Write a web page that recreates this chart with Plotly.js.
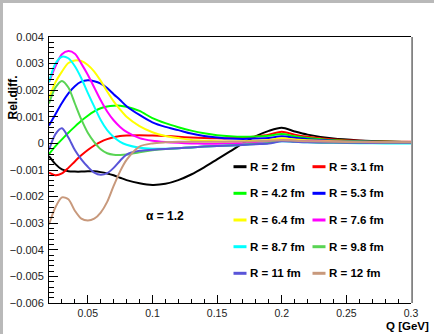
<!DOCTYPE html>
<html>
<head>
<meta charset="utf-8">
<script src="https://cdn.plot.ly/plotly-3.0.1.min.js"></script>
<style>html,body{margin:0;padding:0;background:#fff;}#chart{width:434px;height:334px;}</style>
</head>
<body>
<div id="chart"></div>
<script>
// ---- data ----
const Q = [0.02, 0.025, 0.03, 0.035, 0.04, 0.045, 0.05, 0.055, 0.06, 0.065, 0.07, 0.075, 0.08, 0.09, 0.1, 0.11, 0.12, 0.13, 0.14, 0.15, 0.16, 0.17, 0.18, 0.19, 0.2, 0.21, 0.22, 0.24, 0.26, 0.28, 0.3];
const seriesNames = ["R = 2 fm", "R = 3.1 fm", "R = 4.2 fm", "R = 5.3 fm", "R = 6.4 fm", "R = 7.6 fm", "R = 8.7 fm", "R = 9.8 fm", "R = 11 fm", "R = 12 fm"];
const seriesColors = ["#000000", "#ff0000", "#00ff00", "#0000ff", "#ffff00", "#ff00ff", "#00ffff", "#59d454", "#5954d8", "#c8997c"];
const R2  = [-0.00048, -0.00078, -0.00098, -0.00105, -0.00106, -0.00106, -0.00105, -0.00105, -0.00108, -0.00113, -0.0012, -0.00129, -0.00138, -0.0015, -0.00156, -0.00152, -0.00138, -0.00117, -0.0009, -0.0006, -0.0003, 0.0, 0.00027, 0.00047, 0.00059, 0.00045, 0.00033, 0.00018, 0.00011, 0.00007, 0.00005];
const R31 = [-0.0011, -0.0012, -0.00113, -0.00092, -0.00068, -0.00045, -0.00025, -0.00008, 0.00006, 0.00016, 0.00023, 0.00028, 0.0003, 0.00031, 0.0003, 0.00028, 0.00025, 0.00022, 0.0002, 0.00019, 0.00019, 0.00021, 0.00026, 0.00033, 0.00044, 0.00033, 0.00025, 0.00015, 0.0001, 0.00007, 0.00006];
const R42 = [-0.0004, -0.0001, 0.00015, 0.0004, 0.00063, 0.00085, 0.00104, 0.0012, 0.00132, 0.00139, 0.00142, 0.00142, 0.00138, 0.00122, 0.00095, 0.00076, 0.00061, 0.00048, 0.00038, 0.00031, 0.00027, 0.00025, 0.00026, 0.00029, 0.00035, 0.00027, 0.0002, 0.00012, 0.00008, 0.00006, 0.00005];
const R53 = [0.00067, 0.0011, 0.00152, 0.00188, 0.00215, 0.00232, 0.00237, 0.00234, 0.00225, 0.00208, 0.00185, 0.00163, 0.0014, 0.00107, 0.00079, 0.00062, 0.0005, 0.00037, 0.00028, 0.00022, 0.00018, 0.00017, 0.00018, 0.0002, 0.00027, 0.00021, 0.00016, 0.0001, 0.00007, 0.00005, 0.00005];
const R64 = [0.0017, 0.0023, 0.0027, 0.00302, 0.00312, 0.0031, 0.00295, 0.0027, 0.00235, 0.00195, 0.00158, 0.00127, 0.001, 0.00065, 0.00042, 0.00028, 0.0002, 0.00013, 0.0001, 0.00008, 0.00007, 0.00008, 0.0001, 0.00013, 0.00019, 0.00015, 0.00012, 0.00008, 0.00006, 0.00005, 0.00004];
const R76 = [0.0023, 0.0029, 0.00335, 0.00347, 0.00337, 0.003, 0.00258, 0.0021, 0.00162, 0.0012, 0.00087, 0.00062, 0.00043, 0.0002, 0.0001, 0.00005, 0.00002, 0.0, -0.00001, -0.00001, 0.0, 0.00001, 0.00003, 0.00006, 0.00012, 0.0001, 0.00008, 0.00006, 0.00004, 0.00003, 0.00003];
const R87 = [0.0023, 0.003, 0.00326, 0.0032, 0.0029, 0.00245, 0.0019, 0.00138, 0.00088, 0.0005, 0.00024, 0.00006, -0.00005, -0.00016, -0.0002, -0.0002, -0.00018, -0.00015, -0.00012, -0.0001, -0.00008, -0.00005, -0.00002, 0.00001, 0.00008, 0.00006, 0.00004, 0.00002, 0.00001, 0.0, 0.0];
const R98 = [0.0015, 0.0021, 0.00235, 0.0021, 0.0015, 0.0009, 0.0004, 0.00005, -0.00022, -0.00037, -0.00043, -0.00044, -0.00042, -0.00033, -0.00026, -0.00021, -0.00018, -0.00015, -0.00012, -0.0001, -0.00008, -0.00005, -0.00002, 0.00002, 0.0001, 0.00007, 0.00005, 0.00003, 0.00002, 0.00002, 0.00002];
const R11 = [-0.00025, 0.00035, 0.00057, 0.00022, -0.00025, -0.0006, -0.00088, -0.0011, -0.00118, -0.00112, -0.00092, -0.00065, -0.00042, -0.00028, -0.00024, -0.00021, -0.00018, -0.00015, -0.00012, -0.0001, -0.00008, -0.00006, -0.00003, 0.0, 0.00008, 0.00006, 0.00004, 0.00003, 0.00002, 0.00002, 0.00002];
const R12 = [-0.00305, -0.0024, -0.00203, -0.0021, -0.00253, -0.00283, -0.0029, -0.00283, -0.0026, -0.0022, -0.0016, -0.00105, -0.00062, -0.00012, 0.0, 0.00004, 0.00006, 0.00006, 0.00006, 0.00006, 0.00007, 0.00007, 0.00008, 0.0001, 0.00012, 0.0001, 0.00008, 0.00006, 0.00005, 0.00004, 0.00004];
const seriesValues = [R2, R31, R42, R53, R64, R76, R87, R98, R11, R12];
const alphaLabel = "α = 1.2";

// ---- layout geometry (pixels) ----
const W = 434, H = 334, ML = 49, MR = 23, MT = 37, MB = 31;
const PW = W - ML - MR, PH = H - MT - MB;
const px2x = p => (p - ML) / PW;
const py2y = p => (H - MB - p) / PH;

const FONT = "Liberation Sans, Arial, Helvetica, sans-serif";

const traces = seriesValues.map((vals, i) => ({
  type: "scatter", mode: "lines", x: Q, y: vals, name: seriesNames[i],
  line: {color: seriesColors[i], width: 2, shape: "spline", smoothing: 0.8},
  showlegend: false, hoverinfo: "skip"
}));

const shapes = [
  // window frame (grey border top/left)
  {type: "rect", xref: "paper", yref: "paper", layer: "below",
   x0: px2x(3), x1: px2x(440), y0: py2y(340), y1: py2y(3),
   fillcolor: "#ffffff", line: {width: 0}},
  // right frame border
  {type: "line", xref: "paper", yref: "paper", x0: 1.003, x1: 1.003, y0: 0, y1: 1,
   line: {color: "#6a6a6a", width: 1.5}}
];
const annotations = [];
const rowsY = [166.7, 193.3, 220, 246.7, 273.3];
const colLineX = [[233.5, 246.5], [312.5, 325.5]];
const colTextX = [248.5, 327.5];
seriesNames.forEach((nm, i) => {
  const r = Math.floor(i / 2), c = i % 2;
  shapes.push({type: "line", xref: "paper", yref: "paper",
    x0: px2x(colLineX[c][0]), x1: px2x(colLineX[c][1]), y0: py2y(rowsY[r]), y1: py2y(rowsY[r]),
    line: {color: seriesColors[i], width: 3}});
  annotations.push({xref: "paper", yref: "paper", x: px2x(colTextX[c]), y: py2y(rowsY[r]),
    xanchor: "left", yanchor: "middle", showarrow: false, text: nm, borderpad: 0,
    font: {family: FONT, size: 11.5, color: "#000", weight: "bold"}});
});
annotations.push({xref: "paper", yref: "paper", x: px2x(165), y: py2y(216), xanchor: "center", yanchor: "middle",
  showarrow: false, text: alphaLabel, font: {family: FONT, size: 12, color: "#000", weight: "bold"}});
annotations.push({xref: "paper", yref: "paper", x: px2x(13), y: py2y(97.5), xanchor: "center", yanchor: "middle",
  showarrow: false, textangle: -90, text: "Rel.diff.", borderpad: 0, font: {family: FONT, size: 12, color: "#000", weight: "bold"}});
annotations.push({xref: "paper", yref: "paper", x: px2x(430), y: py2y(318.5), xanchor: "right", yanchor: "top",
  showarrow: false, text: "Q [GeV]", borderpad: 0, font: {family: FONT, size: 11.5, color: "#000", weight: "bold"}});

const layout = {
  width: W, height: H,
  margin: {l: ML, r: MR, t: MT, b: MB, pad: 0},
  paper_bgcolor: "#b9b9b9", plot_bgcolor: "#ffffff",
  showlegend: false,
  font: {family: FONT, size: 11, color: "#222"},
  xaxis: {range: [0.02, 0.3], dtick: 0.05, tick0: 0, showgrid: false, zeroline: false,
    showline: true, linecolor: "#000", linewidth: 1, mirror: true,
    ticks: "inside", ticklen: 8, tickwidth: 1, tickcolor: "#000",
    minor: {ticks: "inside", ticklen: 4, dtick: 0.01, tick0: 0, tickcolor: "#000", showgrid: false},
    tickfont: {family: FONT, size: 10.5, color: "#222"}, exponentformat: "none", ticklabelstandoff: 0},
  yaxis: {range: [-0.006, 0.004], dtick: 0.001, tick0: 0, showgrid: false, zeroline: false,
    showline: true, linecolor: "#000", linewidth: 1, mirror: false,
    ticks: "inside", ticklen: 9, tickwidth: 1, tickcolor: "#000",
    minor: {ticks: "inside", ticklen: 5, dtick: 0.0002, tick0: 0, tickcolor: "#000", showgrid: false},
    tickfont: {family: FONT, size: 11, color: "#222"}, exponentformat: "none", ticklabelstandoff: 2},
  shapes: shapes,
  annotations: annotations
};

Plotly.newPlot("chart", traces, layout, {staticPlot: true, displayModeBar: false});
</script>
</body>
</html>
